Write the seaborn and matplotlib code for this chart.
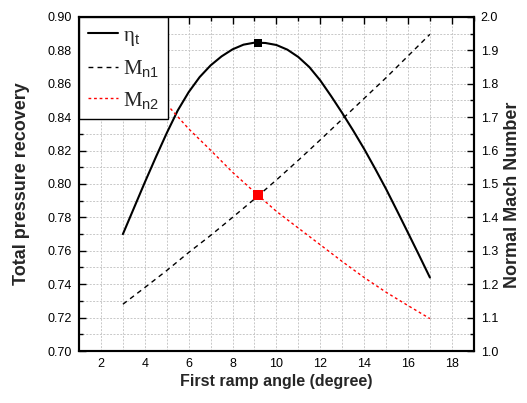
import matplotlib
matplotlib.use("Agg")
import matplotlib.pyplot as plt
from matplotlib.ticker import MultipleLocator, FormatStrFormatter
import pandas as pd
import seaborn as sns

# Total pressure recovery against first ramp angle (degree)
angle_eta = [3, 3.5, 4, 4.5, 5, 5.5, 6, 6.5, 7, 7.5, 8, 8.5, 9, 9.5, 10,
             10.5, 11, 11.5, 12, 12.5, 13, 13.5, 14, 14.5, 15, 15.5, 16,
             16.5, 17]
eta_t = [0.770, 0.7855, 0.801, 0.816, 0.8305, 0.844, 0.855, 0.864, 0.871,
         0.8764, 0.8806, 0.8834, 0.8846, 0.8844, 0.8832, 0.8804, 0.876,
         0.870, 0.862, 0.8525, 0.8425, 0.8320, 0.8210, 0.8092, 0.797,
         0.784, 0.7708, 0.7575, 0.744]
# Normal Mach number upstream of the first shock
angle_mn1 = [3, 4, 5, 6, 7, 8, 9, 10, 11, 12, 13, 14, 15, 16, 17]
mn1 = [1.140, 1.190, 1.241, 1.295, 1.346, 1.400, 1.455, 1.512, 1.571,
       1.632, 1.694, 1.756, 1.818, 1.883, 1.948]
# Normal Mach number behind the first shock
angle_mn2 = [5, 6, 7, 8, 9, 10, 11, 12, 13, 14, 15, 16, 17]
mn2 = [1.738, 1.665, 1.601, 1.535, 1.476, 1.418, 1.368, 1.318, 1.268,
       1.220, 1.176, 1.136, 1.097]
# Optimum point
opt_angle = [9.15]
opt_eta = [0.8846]
opt_mn = [1.466]

sns.set_theme(style="white")
plt.rcParams["font.family"] = ["Liberation Sans", "DejaVu Sans"]
plt.rcParams["mathtext.fontset"] = "custom"
plt.rcParams["mathtext.rm"] = "Liberation Serif"
plt.rcParams["mathtext.it"] = "Liberation Serif:italic"
plt.rcParams["mathtext.sf"] = "Liberation Sans"

df_eta = pd.DataFrame({"angle": angle_eta, "eta": eta_t})
df_mn1 = pd.DataFrame({"angle": angle_mn1, "mn1": mn1})
df_mn2 = pd.DataFrame({"angle": angle_mn2, "mn2": mn2})

fig = plt.figure(figsize=(5.27, 4.03), dpi=100)
ax = fig.add_axes([0.150, 0.129, 0.749, 0.829])
ax2 = ax.twinx()

grid_kw = dict(color="#c8c8c8", linestyle=(0, (2, 1.5)), linewidth=0.7)

sns.lineplot(data=df_eta, x="angle", y="eta", ax=ax, color="black",
             linewidth=1.5, legend=False)
sns.lineplot(data=df_mn1, x="angle", y="mn1", ax=ax2, color="black",
             linewidth=1.0, legend=False)
ax2.lines[-1].set_dashes((3.5, 3))
sns.lineplot(data=df_mn2, x="angle", y="mn2", ax=ax2, color="red",
             linewidth=1.0, legend=False)
ax2.lines[-1].set_dashes((2, 2))

sns.scatterplot(x=opt_angle, y=opt_eta, ax=ax, marker="s", color="black",
                s=30, linewidth=0, zorder=5)
sns.scatterplot(x=opt_angle, y=opt_mn, ax=ax2, marker="s", color="red",
                s=45, linewidth=0, zorder=5)

ax.set_xlim(1, 19)
ax.set_ylim(0.70, 0.90)
ax2.set_ylim(1.0, 2.0)

ax.xaxis.set_major_locator(MultipleLocator(2))
ax.xaxis.set_minor_locator(MultipleLocator(1))
ax.yaxis.set_major_locator(MultipleLocator(0.02))
ax.yaxis.set_minor_locator(MultipleLocator(0.01))
ax.yaxis.set_major_formatter(FormatStrFormatter("%.2f"))
ax2.yaxis.set_major_locator(MultipleLocator(0.1))
ax2.yaxis.set_minor_locator(MultipleLocator(0.05))
ax2.yaxis.set_major_formatter(FormatStrFormatter("%.1f"))

ax.grid(True, which="both", axis="both", **grid_kw)
ax.set_axisbelow(True)

for a in (ax, ax2):
    a.tick_params(which="both", direction="in", colors="black",
                  labelsize=9, width=1.0)
    a.tick_params(which="major", length=5)
    a.tick_params(which="minor", length=3)
    for s in a.spines.values():
        s.set_linewidth(1.5)
        s.set_color("black")
ax.tick_params(axis="x", which="both", top=True, pad=5)
ax.tick_params(axis="y", which="both", left=True, right=False, pad=5)
ax2.tick_params(axis="y", which="both", right=True, left=False, pad=5)
ax.spines["bottom"].set_color("#444444")

ax.set_xlabel("First ramp angle (degree)", labelpad=3, fontsize=11.5,
              fontweight="bold")
ax.set_ylabel("Total pressure recovery", labelpad=13, fontsize=13,
              fontweight="bold")
ax2.set_ylabel("Normal Mach Number", fontsize=13, fontweight="bold")
ax2.yaxis.set_label_coords(1.077, 0.468)

handles = [ax.lines[0], ax2.lines[0], ax2.lines[1]]
labels = [r"$\mathrm{\eta}_{\mathsf{t}}$", r"$\mathrm{M}_{\mathsf{n1}}$",
          r"$\mathrm{M}_{\mathsf{n2}}$"]
leg = ax2.legend(handles, labels, loc="upper left", bbox_to_anchor=(0, 1),
                 fontsize=15, frameon=True, fancybox=False, framealpha=1,
                 edgecolor="black", handlelength=1.45, handletextpad=0.22,
                 borderpad=0.42, labelspacing=0.5, borderaxespad=0)
leg.get_frame().set_linewidth(1.0)
leg.set_zorder(10)

fig.savefig("out.png", dpi=100)
